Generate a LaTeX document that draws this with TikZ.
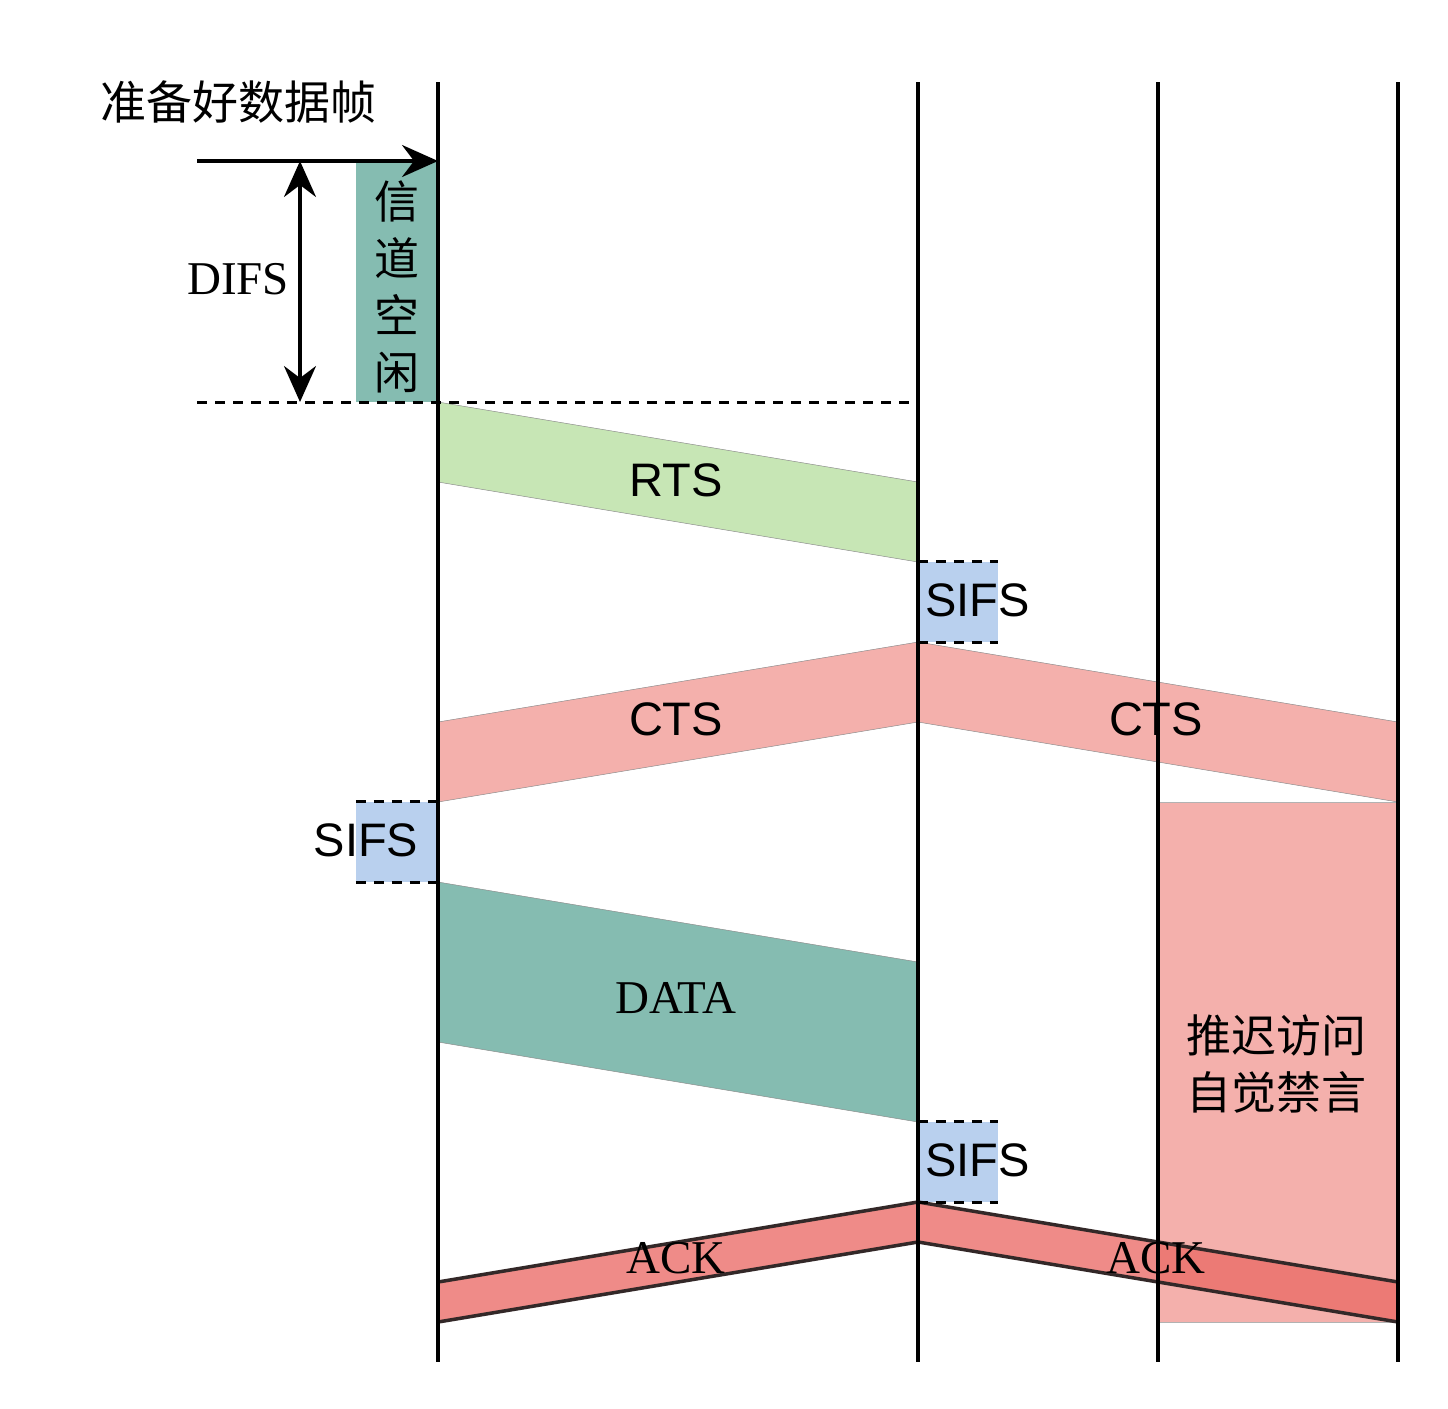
\documentclass[tikz,border=0pt]{standalone}
\usepackage{fontspec}
\setmainfont{Liberation Serif}
\setsansfont{Liberation Sans}
\newfontfamily\cjk{Noto Sans CJK SC}
\usetikzlibrary{arrows.meta,positioning}

\definecolor{idlecol}{RGB}{133,188,177}
\definecolor{rtscol}{RGB}{199,230,181}
\definecolor{sifscol}{RGB}{185,208,238}
\definecolor{ctscol}{RGB}{244,176,172}
\definecolor{ackcol}{RGB}{234,107,102}
\definecolor{ackline}{RGB}{51,40,40}

\begin{document}
\begin{tikzpicture}[x=1pt,y=-1pt,
  >={Stealth[length=36pt,width=32pt,inset=12pt]},
  big/.style={font=\fontsize{47}{57}\selectfont, inner sep=0pt},
  sans/.style={big, font=\sffamily\fontsize{47}{57}\selectfont},
  zh/.style={big, font=\cjk\fontsize{45}{57}\selectfont, align=center},
  sifsbox/.style={fill=sifscol, minimum width=80pt, minimum height=80pt, inner sep=0pt},
  frame/.style={draw=black!45, line width=0.5pt}]
  \useasboundingbox (0,0) rectangle (1448,1408);

  % time lines
  \foreach \x/\n in {438/a, 918/b, 1158/c, 1398/d} {
    \coordinate (\n top) at (\x,82);
    \coordinate (\n bot) at (\x,1362);
  }

  % channel idle and DIFS
  \node[fill=idlecol, minimum width=82pt, minimum height=241pt, inner sep=0pt] (idle) at (397,281.5) {};
  \node[zh] (idletxt) at (397,287) {信\\道\\空\\闲};
  \node[zh, font=\cjk\fontsize{46}{57}\selectfont] (ready) at (238,102) {准备好数据帧};
  \coordinate (arrs) at (197,161);
  \coordinate (arre) at (438,161);
  \coordinate (dashs) at (197,402);
  \coordinate (dashe) at (918,402);
  \coordinate (difst) at (300,161);
  \coordinate (difsb) at (300,402);
  \node[big] (difs) at (238,279) {DIFS};

  % RTS
  \fill[rtscol] (438,402) -- (918,482) -- (918,562) -- (438,482) -- cycle;
  \draw[frame] (438,402) -- (918,482) (918,562) -- (438,482);
  \node[sans] (rts) at (676,480) {RTS};

  % SIFS after RTS
  \node[sifsbox] (sifs1) at (958,602) {};
  \node[sans, anchor=west] (sifs1txt) at (925,600) {SIFS};

  % CTS both ways
  \fill[ctscol] (438,722) -- (918,642) -- (918,722) -- (438,802) -- cycle;
  \fill[ctscol] (918,642) -- (1398,722) -- (1398,802) -- (918,722) -- cycle;
  \draw[frame] (438,722) -- (918,642) -- (1398,722) (438,802) -- (918,722) -- (1398,802);
  \node[sans] (cts1) at (676,719) {CTS};
  \node[sans] (cts2) at (1156,719) {CTS};

  % SIFS before DATA
  \node[sifsbox, minimum width=82pt] (sifs2) at (397,842) {};
  \node[sans] (sifs2txt) at (366,840) {SIFS};

  % DATA
  \fill[idlecol] (438,882) -- (918,962) -- (918,1122) -- (438,1042) -- cycle;
  \draw[frame] (438,882) -- (918,962) (918,1122) -- (438,1042);
  \node[big] (data) at (676,998) {DATA};

  % SIFS after DATA
  \node[sifsbox] (sifs3) at (958,1162) {};
  \node[sans, anchor=west] (sifs3txt) at (925,1160) {SIFS};

  % deferred access
  \node[fill=ctscol, draw=black!30, line width=0.5pt, minimum width=240pt, minimum height=520pt, inner sep=0pt] (defer) at (1278,1062) {};
  \node[zh] (defertxt) at (1276,1064) {推迟访问\\自觉禁言};

  % ACK both ways
  \filldraw[fill=ackcol, fill opacity=0.78, draw=ackline, line width=3.5pt, line join=round]
    (438,1282) -- (918,1202) -- (918,1242) -- (438,1322) -- cycle;
  \filldraw[fill=ackcol, fill opacity=0.78, draw=ackline, line width=3.5pt, line join=round]
    (918,1202) -- (1398,1282) -- (1398,1322) -- (918,1242) -- cycle;
  \node[big] (ack1) at (676,1258) {ACK};
  \node[big] (ack2) at (1156,1258) {ACK};

  % lines on top
  \foreach \n in {a,b,c,d}
    \draw[line width=3.5pt] (\n top) -- (\n bot);
  \draw[line width=3pt, dash pattern=on 10pt off 8pt] (dashs) -- (dashe);
  \foreach \s in {sifs1,sifs2,sifs3} {
    \draw[line width=3pt, dash pattern=on 10pt off 8pt] (\s.north west) -- (\s.north east);
    \draw[line width=3pt, dash pattern=on 10pt off 8pt] (\s.south west) -- (\s.south east);
  }
  \draw[line width=3.5pt, ->] (arrs) -- (arre);
  \draw[line width=3.5pt, <->] (difst) -- (difsb);
\end{tikzpicture}
\end{document}
